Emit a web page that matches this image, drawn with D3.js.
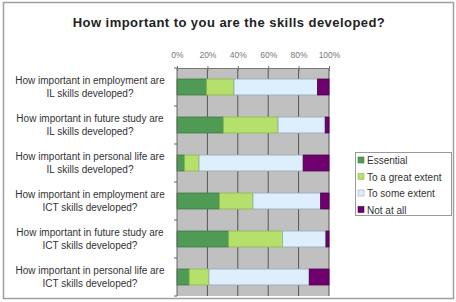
<!DOCTYPE html>
<html>
<head>
<meta charset="utf-8">
<script src="https://cdn.jsdelivr.net/npm/d3@7"></script>
<style>
  body { margin: 0; background: #fff; }
  svg { display: block; font-family: "Liberation Sans", Arial, sans-serif; }
</style>
</head>
<body>
<div class="chart"></div>
<script>
// questions, top to bottom (two lines each)
const questions = [
  ['How important in employment are', 'IL skills developed?'],
  ['How important in future study are', 'IL skills developed?'],
  ['How important in personal life are', 'IL skills developed?'],
  ['How important in employment are', 'ICT skills developed?'],
  ['How important in future study are', 'ICT skills developed?'],
  ['How important in personal life are', 'ICT skills developed?']
];
const seriesNames = ['Essential', 'To a great extent', 'To some extent', 'Not at all'];
// percent of answers per question
const essential = [19.5, 30.5, 5, 28, 34, 8];
const greatExtent = [18, 36, 9.5, 22, 35.5, 13];
const someExtent = [55, 31, 68.5, 44.5, 28.5, 66];
const notAtAll = [7.5, 2.5, 17, 5.5, 2, 13];
const xTicks = [0, 20, 40, 60, 80, 100];

const colors = ['#4f9a55', '#b6e06c', '#ddeefc', '#700070'];
const strokes = ['#3c7a42', '#8fb84e', '#9aaab8', '#4a004a'];

const width = 456, height = 302;
const margin = {top: 68, left: 177, right: 127, bottom: 6};

const svg = d3.select('.chart').append('svg')
  .attr('width', width).attr('height', height);

// outer frame
svg.append('rect')
  .attr('x', 3.5).attr('y', 2.5)
  .attr('width', 450).attr('height', 296)
  .attr('fill', '#fff').attr('stroke', '#a0a0a0').attr('stroke-width', 1.5);

svg.append('text')
  .attr('x', 229).attr('y', 27)
  .attr('text-anchor', 'middle')
  .attr('font-size', 13).attr('font-weight', 'bold')
  .attr('letter-spacing', 0.45)
  .attr('fill', '#222')
  .text('How important to you are the skills developed?');

const rows = questions.map((q, i) => ({
  q, i,
  values: [essential[i], greatExtent[i], someExtent[i], notAtAll[i]]
}));

const x = d3.scaleLinear().domain([0, 100]).range([margin.left, width - margin.right]);
const y = d3.scaleBand().domain(d3.range(questions.length))
  .range([margin.top, height - margin.bottom]).paddingInner(0.58).paddingOuter(0.29);

// plot background
svg.append('rect')
  .attr('x', x(0)).attr('y', margin.top)
  .attr('width', x(100) - x(0)).attr('height', height - margin.bottom - margin.top)
  .attr('fill', '#c0c0c0');

// vertical gridlines
svg.append('g').selectAll('line')
  .data(xTicks.slice(1))
  .join('line')
    .attr('x1', d => x(d)).attr('x2', d => x(d))
    .attr('y1', margin.top).attr('y2', height - margin.bottom)
    .attr('stroke', '#555').attr('stroke-width', 1);

// top axis
const xAxis = d3.axisTop(x).tickValues(xTicks).tickFormat(d => d + '%')
  .tickSizeInner(3).tickSizeOuter(0).tickPadding(7);
svg.append('g')
  .attr('transform', `translate(0,${margin.top})`)
  .call(xAxis)
  .call(g => g.select('.domain').attr('stroke', '#777'))
  .call(g => g.selectAll('.tick line').attr('stroke', '#777').attr('y2', 3).attr('y1', -2))
  .call(g => g.selectAll('text').attr('font-size', 8.5).attr('fill', '#777')
    .attr('font-family', '"Liberation Sans", Arial, sans-serif'));

// stacked bars
const stack = d3.stack().keys([0, 1, 2, 3]).value((d, k) => d.values[k]);
const layers = stack(rows);

svg.append('g').selectAll('g')
  .data(layers)
  .join('g')
    .attr('fill', (d, k) => colors[k])
    .attr('stroke', (d, k) => strokes[k])
  .selectAll('rect')
  .data(d => d)
  .join('rect')
    .attr('x', d => x(d[0]))
    .attr('width', d => x(d[1]) - x(d[0]))
    .attr('y', d => y(d.data.i))
    .attr('height', y.bandwidth())
    .attr('stroke-width', 0.8);

// left axis with category ticks
const plotH = height - margin.bottom - margin.top;
svg.append('line')
  .attr('x1', x(0)).attr('x2', x(0))
  .attr('y1', margin.top).attr('y2', height - margin.bottom)
  .attr('stroke', '#666');
svg.append('g').selectAll('line')
  .data(d3.range(questions.length + 1))
  .join('line')
    .attr('x1', x(0) - 3).attr('x2', x(0))
    .attr('y1', d => margin.top + d * plotH / questions.length)
    .attr('y2', d => margin.top + d * plotH / questions.length)
    .attr('stroke', '#666');

// category labels
const labels = svg.append('g').selectAll('text')
  .data(rows)
  .join('text')
    .attr('text-anchor', 'middle')
    .attr('font-size', 10)
    .attr('fill', '#333')
    .attr('transform', d => `translate(90,${y(d.i) + y.bandwidth() / 2})`);
labels.selectAll('tspan')
  .data(d => d.q)
  .join('tspan')
    .attr('x', 0)
    .attr('y', (d, j) => j === 0 ? -3.5 : 10)
    .text(d => d);

// legend
const legend = svg.append('g').attr('transform', 'translate(355,152)');
legend.append('rect')
  .attr('x', 0.5).attr('y', 0.5).attr('width', 96).attr('height', 63)
  .attr('fill', '#fff').attr('stroke', '#999');
const items = legend.selectAll('g.item')
  .data(seriesNames)
  .join('g')
    .attr('class', 'item')
    .attr('transform', (d, k) => `translate(3,${5 + k * 16.5})`);
items.append('rect')
  .attr('width', 6).attr('height', 6)
  .attr('fill', (d, k) => colors[k])
  .attr('stroke', (d, k) => strokes[k]).attr('stroke-width', 0.6);
items.append('text')
  .attr('x', 9).attr('y', 7)
  .attr('font-size', 10).attr('fill', '#333')
  .text(d => d);
</script>
</body>
</html>
